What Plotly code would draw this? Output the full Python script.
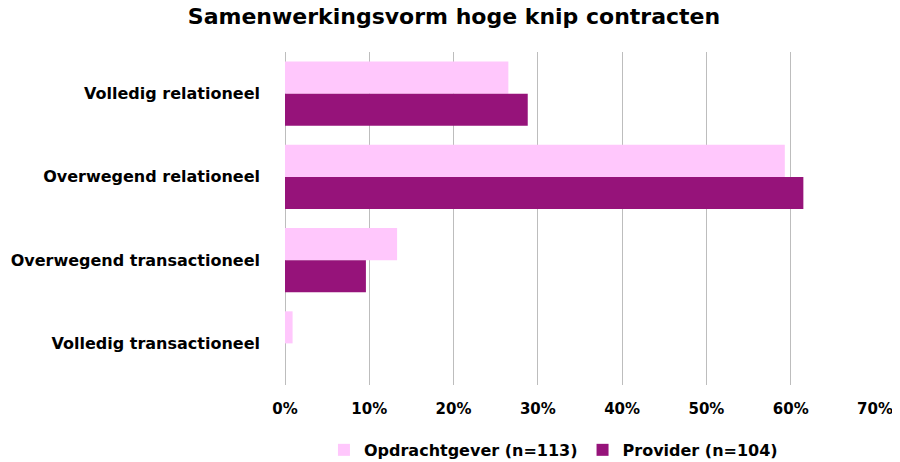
import plotly.graph_objects as go

categories = ["Volledig relationeel", "Overwegend relationeel",
              "Overwegend transactioneel", "Volledig transactioneel"]
opdrachtgever = [26.5, 59.3, 13.3, 0.9]
provider = [28.8, 61.5, 9.6, 0.0]
x_ticks = [0, 10, 20, 30, 40, 50, 60, 70]
x_labels = [f"<b>{t}%</b>" for t in x_ticks]

FONT = "'DejaVu Sans', sans-serif"

fig = go.Figure()
fig.add_trace(go.Bar(y=categories, x=opdrachtgever, orientation="h",
                     name="<b>Opdrachtgever (n=113)</b>",
                     marker=dict(color="#FFC7FC", line=dict(width=0))))
fig.add_trace(go.Bar(y=categories, x=provider, orientation="h",
                     name="<b>Provider (n=104)</b>",
                     marker=dict(color="#96137A", line=dict(width=0))))

# the page has an 8px body margin, so the figure is a bit smaller than the window
fig.update_layout(
    width=892, height=454,
    title=dict(text="<b>Samenwerkingsvorm hoge knip contracten</b>",
               x=0.5, xanchor="center", y=0.998, yanchor="top",
               font=dict(size=22, color="black", family=FONT)),
    barmode="group", bargap=0.23, bargroupgap=0,
    plot_bgcolor="white", paper_bgcolor="white",
    margin=dict(l=277, r=25, t=44, b=77, autoexpand=False),
    font=dict(family=FONT, size=15, color="black"),
    showlegend=True,
    legend=dict(orientation="h", x=0.455, xanchor="center", y=-0.195, yanchor="middle",
                font=dict(size=16), traceorder="normal", itemwidth=30),
)
fig.update_xaxes(range=[0, 70], tickvals=x_ticks, ticktext=x_labels,
                 showgrid=True, gridcolor="#BDBDBD", gridwidth=1,
                 zeroline=True, zerolinecolor="#BDBDBD", zerolinewidth=1,
                 ticks="", tickfont=dict(size=15), ticklabelstandoff=13,
                 automargin=False, fixedrange=True)
fig.update_yaxes(autorange="reversed", ticks="", ticklabelstandoff=24,
                 tickvals=categories, ticktext=[f"<b>{c}</b>" for c in categories],
                 tickfont=dict(size=16), automargin=False)

fig.write_html("out.html")
